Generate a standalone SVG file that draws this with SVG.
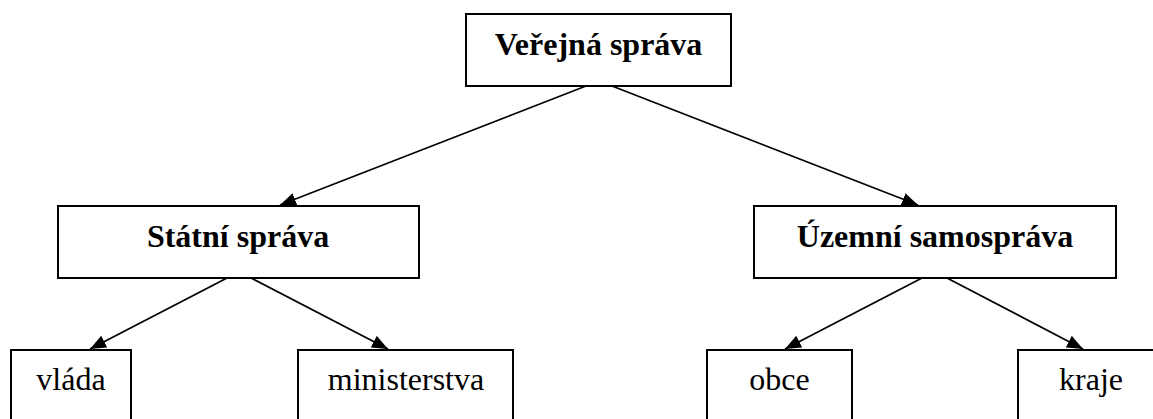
<svg xmlns="http://www.w3.org/2000/svg" width="1153" height="419" viewBox="0 0 1153 419">
  <style>
    .box { fill: #fff; stroke: #000; stroke-width: 2; }
    .t { font-family: "Liberation Serif", "Times New Roman", serif; font-size: 32px; fill: #000; text-anchor: middle; }
    .b { font-weight: bold; }
    .c { stroke: #000; stroke-width: 1.7; fill: none; marker-end: url(#ah); }
  </style>
  <defs>
    <marker id="ah" markerUnits="userSpaceOnUse" markerWidth="17" markerHeight="14" refX="16" refY="6.5" orient="auto">
      <path d="M0,0 L16,6.5 L0,13 z" fill="#000"/>
    </marker>
  </defs>
  <rect width="1153" height="419" fill="#fff"/>
  <g id="connectors">
    <line class="c" x1="586" y1="86" x2="280" y2="205"/>
    <line class="c" x1="612" y1="86" x2="918" y2="205"/>
    <line class="c" x1="227" y1="278" x2="90" y2="349"/>
    <line class="c" x1="251" y1="278" x2="388" y2="349"/>
    <line class="c" x1="922" y1="278" x2="785" y2="349"/>
    <line class="c" x1="947" y1="278" x2="1083" y2="349"/>
  </g>
  <g id="verejna-sprava">
    <rect class="box" x="466" y="14" width="265" height="72"/>
    <text class="t b" x="598.5" y="55">Veřejná správa</text>
  </g>
  <g id="statni-sprava">
    <rect class="box" x="58" y="206" width="361" height="72"/>
    <text class="t b" x="238" y="247">Státní správa</text>
  </g>
  <g id="uzemni-samosprava">
    <rect class="box" x="754" y="206" width="362" height="72"/>
    <text class="t b" x="935" y="247">Územní samospráva</text>
  </g>
  <g id="vlada">
    <rect class="box" x="11" y="350" width="120" height="90"/>
    <text class="t" x="71" y="390">vláda</text>
  </g>
  <g id="ministerstva">
    <rect class="box" x="298" y="350" width="215" height="90"/>
    <text class="t" x="406" y="390">ministerstva</text>
  </g>
  <g id="obce">
    <rect class="box" x="707" y="350" width="145" height="90"/>
    <text class="t" x="779.5" y="390">obce</text>
  </g>
  <g id="kraje">
    <rect class="box" x="1018" y="350" width="146" height="90"/>
    <text class="t" x="1091" y="390">kraje</text>
  </g>
</svg>
